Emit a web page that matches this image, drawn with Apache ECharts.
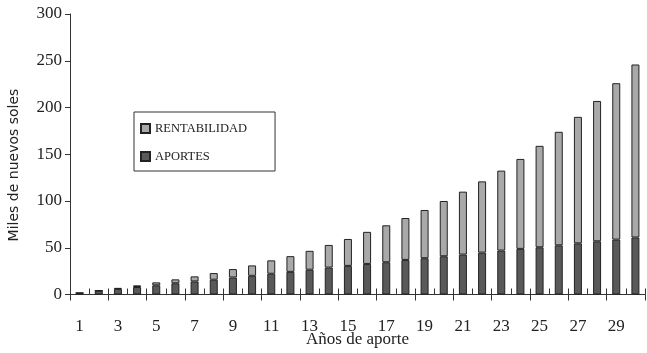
<!DOCTYPE html>
<html>
<head>
<meta charset="utf-8">
<script src="https://cdn.jsdelivr.net/npm/echarts@6/dist/echarts.min.js"></script>
<style>
  html, body { margin: 0; padding: 0; background: #fff; }
  #chart { width: 647px; height: 353px; }
</style>
</head>
<body>
<div id="chart"></div>
<script>
// Años de aporte (1..30)
const years = ['1','2','3','4','5','6','7','8','9','10','11','12','13','14','15',
               '16','17','18','19','20','21','22','23','24','25','26','27','28','29','30'];
// Miles de nuevos soles aportados (acumulado)
const aportes = [1.6, 4, 6, 8, 9.8, 12, 14, 15.8, 18.2, 20, 22.2, 24.2, 26.5, 28.8, 30.6,
                 32.7, 34.5, 37, 38.8, 40.9, 42.7, 44.8, 47, 48.8, 50.5, 52.6, 54.7, 56.9, 58.7, 61];
// Rentabilidad acumulada encima de los aportes
const rentabilidad = [0.2, 0.2, 1, 1.8, 3.2, 4.2, 5.4, 7.1, 9, 11.1, 14.3, 16.8, 20.2, 24.2, 28.8,
                      34.3, 39.5, 44.8, 51.6, 59.1, 67.3, 76.2, 85.5, 96.2, 108.5, 121.4, 135.3, 150.1, 167.3, 185];
const yTicks = { min: 0, max: 300, step: 50 };

const serif = 'Liberation Serif';
const sans = 'DejaVu Sans';
const chart = echarts.init(document.getElementById('chart'), null, { renderer: 'canvas' });

chart.setOption({
  animation: false,
  backgroundColor: '#ffffff',
  textStyle: { fontFamily: serif, color: '#222' },
  grid: { left: 70, right: 2, top: 14, bottom: 58.5, containLabel: false, outerBoundsMode: 'none' },
  legend: {
    orient: 'vertical',
    left: 134,
    top: 112,
    data: ['RENTABILIDAD', 'APORTES'],
    icon: 'rect',
    itemWidth: 9,
    itemHeight: 9,
    itemGap: 15,
    padding: [10, 28, 8, 6],
    borderColor: '#333',
    borderWidth: 1,
    textStyle: { fontFamily: serif, fontSize: 12.5, color: '#222', padding: [3, 0, 0, 0] }
  },
  xAxis: [
    {
      type: 'category',
      data: years,
      name: 'Años de aporte',
      nameLocation: 'middle',
      nameGap: 37,
      nameMoveOverlap: false,
      nameTextStyle: { fontFamily: serif, fontSize: 17, color: '#222' },
      axisLine: { lineStyle: { color: '#333', width: 1 } },
      axisTick: { show: true, length: 6, lineStyle: { color: '#333' } },
      axisLabel: { interval: 1, margin: 24, fontFamily: serif, fontSize: 17, color: '#222' }
    },
    {
      type: 'category',
      data: years,
      position: 'bottom',
      axisLine: { show: false },
      axisTick: { show: true, inside: true, length: 6, lineStyle: { color: '#333' } },
      axisLabel: { show: false }
    }
  ],
  yAxis: {
    type: 'value',
    min: yTicks.min,
    max: yTicks.max,
    interval: yTicks.step,
    axisLine: { show: true, lineStyle: { color: '#333', width: 1 } },
    axisTick: { show: true, length: 5, lineStyle: { color: '#333' } },
    splitLine: { show: false },
    axisLabel: { margin: 8, fontFamily: serif, fontSize: 17, color: '#222' }
  },
  graphic: [
    {
      type: 'text',
      x: 14,
      y: 165,
      rotation: Math.PI / 2,
      style: {
        text: 'Miles de nuevos soles',
        fontFamily: sans,
        fontSize: 14,
        fill: '#222',
        align: 'center',
        verticalAlign: 'middle'
      }
    }
  ],
  series: [
    {
      name: 'APORTES',
      type: 'bar',
      stack: 'total',
      barWidth: 8,
      data: aportes,
      itemStyle: { color: '#59595b', borderColor: '#222', borderWidth: 1 }
    },
    {
      name: 'RENTABILIDAD',
      type: 'bar',
      stack: 'total',
      barWidth: 8,
      data: rentabilidad,
      itemStyle: { color: '#a9a9ab', borderColor: '#222', borderWidth: 1 }
    }
  ]
});
</script>
</body>
</html>
